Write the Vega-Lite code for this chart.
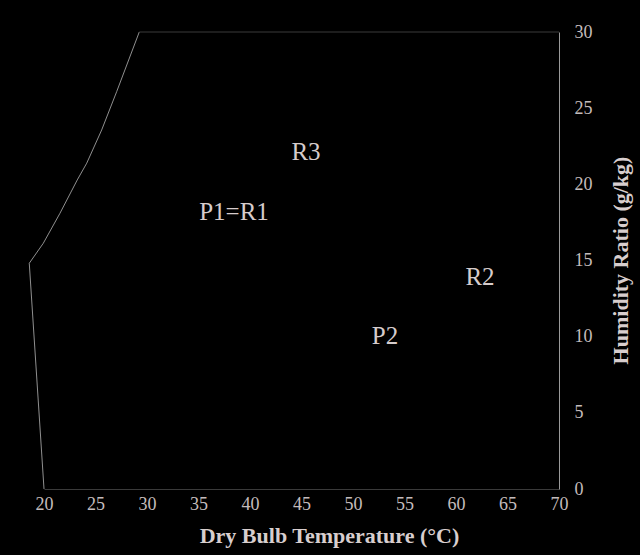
{
  "$schema": "https://vega.github.io/schema/vega-lite/v6.json",
  "width": 515,
  "height": 457,
  "autosize": "none",
  "padding": {"left": 44, "top": 32, "right": 81, "bottom": 66},
  "background": "#000000",
  "config": {
    "view": {"stroke": null},
    "font": "Liberation Serif",
    "axis": {
      "grid": false,
      "ticks": false,
      "labelFlush": false,
      "labelFont": "Liberation Serif",
      "labelFontSize": 18,
      "labelColor": "#c4bcbc",
      "titleFont": "Liberation Serif",
      "titleFontSize": 22,
      "titleFontWeight": "bold",
      "titleColor": "#d8cece"
    }
  },
  "datasets": {
    "saturation": [
      {"order": 1, "temp": 20.0, "w": 0.0},
      {"order": 2, "temp": 18.57, "w": 14.82},
      {"order": 3, "temp": 19.93, "w": 16.13},
      {"order": 4, "temp": 21.55, "w": 18.1},
      {"order": 5, "temp": 23.23, "w": 20.29},
      {"order": 6, "temp": 24.15, "w": 21.39},
      {"order": 7, "temp": 25.6, "w": 23.57},
      {"order": 8, "temp": 27.06, "w": 26.09},
      {"order": 9, "temp": 29.25, "w": 30.0}
    ],
    "topline": [
      {"order": 1, "temp": 29.25, "w": 30.0},
      {"order": 2, "temp": 70.0, "w": 30.0}
    ],
    "points": [
      {"label": "R3", "temp": 45.44, "w": 22.13},
      {"label": "P1=R1", "temp": 38.45, "w": 18.19},
      {"label": "R2", "temp": 62.33, "w": 13.92},
      {"label": "P2", "temp": 53.1, "w": 10.05}
    ]
  },
  "encoding": {
    "x": {
      "field": "temp",
      "type": "quantitative",
      "scale": {"domain": [20, 70], "nice": false, "zero": false},
      "axis": {
        "orient": "bottom",
        "values": [20, 25, 30, 35, 40, 45, 50, 55, 60, 65, 70],
        "labelPadding": 6,
        "labelDx": 3,
        "domainColor": "#3a3a3a",
        "title": "Dry Bulb Temperature (°C)",
        "titleX": 285,
        "titleY": 53,
        "titleAlign": "center",
        "titleBaseline": "alphabetic"
      }
    },
    "y": {
      "field": "w",
      "type": "quantitative",
      "scale": {"domain": [0, 30], "nice": false},
      "axis": {
        "orient": "right",
        "values": [0, 5, 10, 15, 20, 25, 30],
        "labelPadding": 15,
        "labelAlign": "left",
        "domainColor": "#9a9a9a",
        "title": "Humidity Ratio (g/kg)",
        "titleAngle": 270,
        "titleX": 61,
        "titleY": 228,
        "titleAlign": "center",
        "titleBaseline": "middle"
      }
    }
  },
  "layer": [
    {
      "data": {"name": "saturation"},
      "mark": {"type": "line", "color": "#b4b4b4", "strokeWidth": 0.8, "clip": false},
      "encoding": {"order": {"field": "order", "type": "quantitative"}}
    },
    {
      "data": {"name": "topline"},
      "mark": {"type": "line", "color": "#3a3a3a", "strokeWidth": 1},
      "encoding": {"order": {"field": "order", "type": "quantitative"}}
    },
    {
      "data": {"name": "points"},
      "mark": {
        "type": "text",
        "font": "Liberation Serif",
        "fontSize": 25,
        "color": "#d6cccc",
        "align": "center",
        "baseline": "middle"
      },
      "encoding": {"text": {"field": "label", "type": "nominal"}}
    }
  ]
}
